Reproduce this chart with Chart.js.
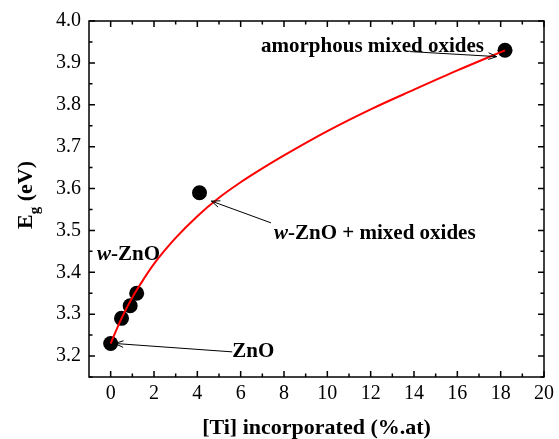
<!DOCTYPE html>
<html>
<head>
<meta charset="utf-8">
<script src="https://cdn.jsdelivr.net/npm/chart.js@4.4.1/dist/chart.umd.min.js"></script>
<style>
html, body { margin: 0; padding: 0; background: #fff; }
#wrap { width: 559px; height: 439px; }
</style>
</head>
<body>
<div id="wrap"><canvas id="chart"></canvas></div>
<script>
// measured samples
const tiValues = [0, 0.5, 0.9, 1.2, 4.1, 18.2];
const egValues = [3.23, 3.29, 3.32, 3.35, 3.59, 3.93];

// red fitted curve
const fitTi = [0, 0.5, 1, 1.5, 2, 3, 4, 5, 6, 7, 8, 10, 12, 14, 16, 18.2];
const fitEg = [3.23, 3.29, 3.34, 3.382, 3.42, 3.482, 3.534, 3.578, 3.615, 3.648, 3.679, 3.737, 3.789, 3.836, 3.882, 3.93];

const xTickValues = [0, 2, 4, 6, 8, 10, 12, 14, 16, 18, 20];
const yTickValues = [3.2, 3.3, 3.4, 3.5, 3.6, 3.7, 3.8, 3.9, 4.0];

const xTitle = '[Ti] incorporated (%.at)';

// text notes: data position of left edge / baseline
const notes = [
    { x: 6.94, y: 3.927, parts: [['amorphous mixed oxides', false]] },
    { x: 7.54, y: 3.479, parts: [['w', true], ['-ZnO + mixed oxides', false]] },
    { x: -0.63, y: 3.429, parts: [['w', true], ['-ZnO', false]] },
    { x: 5.61, y: 3.197, parts: [['ZnO', false]] }
];

// arrows: tail -> head, in data units
const arrows = [
    [13.81, 3.927, 17.82, 3.915],
    [7.40, 3.518, 4.65, 3.570],
    [5.61, 3.210, 0.20, 3.230]
];

const SERIF = '"Liberation Serif", "Times New Roman", serif';

const drawArrow = (ctx, x1, y1, x2, y2) => {
    const a = Math.atan2(y2 - y1, x2 - x1);
    const len = 9, spread = 0.38;
    ctx.beginPath();
    ctx.moveTo(x1, y1);
    ctx.lineTo(x2, y2);
    ctx.moveTo(x2 - len * Math.cos(a - spread), y2 - len * Math.sin(a - spread));
    ctx.lineTo(x2, y2);
    ctx.lineTo(x2 - len * Math.cos(a + spread), y2 - len * Math.sin(a + spread));
    ctx.stroke();
};

const decorations = {
    id: 'decorations',
    afterDraw(chart) {
        const { ctx, chartArea: ca, scales: { x, y } } = chart;
        ctx.save();

        // frame
        ctx.strokeStyle = '#000';
        ctx.lineWidth = 1.5;
        ctx.strokeRect(ca.left, ca.top, ca.right - ca.left, ca.bottom - ca.top);

        // inward ticks on all four sides
        ctx.beginPath();
        for (let v = 0; v <= 20; v += 1) {
            const px = x.getPixelForValue(v);
            const l = v % 2 === 0 ? 6 : 3.5;
            ctx.moveTo(px, ca.bottom); ctx.lineTo(px, ca.bottom - l);
            ctx.moveTo(px, ca.top); ctx.lineTo(px, ca.top + l);
        }
        for (let i = 0; i <= 17; i++) {
            const v = 3.15 + i * 0.05;
            const py = y.getPixelForValue(v);
            const l = i % 2 === 1 ? 6 : 3.5;
            ctx.moveTo(ca.left, py); ctx.lineTo(ca.left + l, py);
            ctx.moveTo(ca.right, py); ctx.lineTo(ca.right - l, py);
        }
        ctx.stroke();

        // axis titles
        ctx.fillStyle = '#000';
        ctx.font = 'bold 22px ' + SERIF;
        ctx.textAlign = 'center';
        ctx.textBaseline = 'alphabetic';
        ctx.fillText(xTitle, (ca.left + ca.right) / 2, 434);

        ctx.save();
        ctx.translate(32, 229);
        ctx.rotate(-Math.PI / 2);
        ctx.textAlign = 'left';
        ctx.font = 'bold 22px ' + SERIF;
        ctx.fillText('E', 0, 0);
        let w = ctx.measureText('E').width;
        ctx.font = 'bold 15px ' + SERIF;
        ctx.fillText('g', w, 7);
        w += ctx.measureText('g').width;
        ctx.font = 'bold 22px ' + SERIF;
        ctx.fillText(' (eV)', w, 0);
        ctx.restore();

        // notes
        ctx.textAlign = 'left';
        notes.forEach(n => {
            let px = x.getPixelForValue(n.x);
            const py = y.getPixelForValue(n.y);
            n.parts.forEach(([t, it]) => {
                ctx.font = (it ? 'italic ' : '') + 'bold 21px ' + SERIF;
                ctx.fillText(t, px, py);
                px += ctx.measureText(t).width;
            });
        });

        // arrows
        ctx.lineWidth = 1;
        arrows.forEach(([a, b, c, d]) => {
            drawArrow(ctx, x.getPixelForValue(a), y.getPixelForValue(b),
                x.getPixelForValue(c), y.getPixelForValue(d));
        });

        ctx.restore();
    }
};

new Chart(document.getElementById('chart'), {
    type: 'scatter',
    data: {
        datasets: [
            {
                data: fitTi.map((v, i) => ({ x: v, y: fitEg[i] })),
                showLine: true,
                borderColor: '#ff0000',
                borderWidth: 2,
                pointRadius: 0,
                cubicInterpolationMode: 'monotone',
                fill: false
            },
            {
                data: tiValues.map((v, i) => ({ x: v, y: egValues[i] })),
                backgroundColor: '#000',
                borderColor: '#000',
                pointRadius: 7.5,
                borderWidth: 0
            }
        ]
    },
    options: {
        responsive: true,
        maintainAspectRatio: false,
        animation: false,
        layout: { padding: { top: 21, right: 12, left: 0, bottom: 0 } },
        plugins: {
            legend: { display: false },
            tooltip: { enabled: false }
        },
        scales: {
            x: {
                type: 'linear',
                min: -1,
                max: 20,
                afterBuildTicks: s => { s.ticks = xTickValues.map(v => ({ value: v })); },
                afterFit: s => { s.height = 62; },
                grid: { display: false, drawTicks: false },
                border: { display: false },
                ticks: {
                    color: '#000',
                    font: { family: SERIF, size: 20 },
                    padding: 5,
                    maxRotation: 0,
                    callback: v => String(v)
                }
            },
            y: {
                type: 'linear',
                min: 3.15,
                max: 4.0,
                afterBuildTicks: s => { s.ticks = yTickValues.map(v => ({ value: v })); },
                afterFit: s => { s.width = 89; },
                grid: { display: false, drawTicks: false },
                border: { display: false },
                ticks: {
                    color: '#000',
                    font: { family: SERIF, size: 20 },
                    padding: 8,
                    callback: v => v.toFixed(1)
                }
            }
        }
    },
    plugins: [decorations]
});
</script>
</body>
</html>
